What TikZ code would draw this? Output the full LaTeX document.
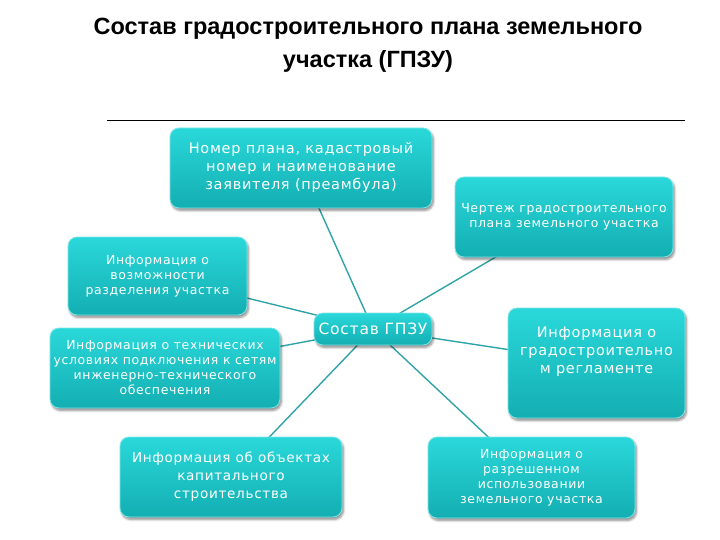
\documentclass[tikz,border=0pt]{standalone}
\usepackage{fontspec}
\setmainfont{DejaVu Sans}
\newfontfamily\boxfont[LetterSpace=5]{DejaVu Sans}
\newfontfamily\titlefont{Liberation Sans}
\usetikzlibrary{shadows.blur}
\pgfdeclarelayer{bg}
\pgfsetlayers{bg,main}
\definecolor{boxtop}{HTML}{2AD8DA}
\definecolor{boxbot}{HTML}{13AEB2}
\definecolor{edgec}{HTML}{7FE6E8}
\definecolor{linec}{HTML}{2FA3A8}
\tikzset{
  gbox/.style={rounded corners=9pt, top color=boxtop, bottom color=boxbot, draw=edgec, line width=0.8pt,
    blur shadow={shadow xshift=1.5pt, shadow yshift=-2.5pt, shadow blur steps=6, shadow opacity=45},
    text=white, align=center, inner sep=2pt},
  bigtxt/.style={font=\boxfont\fontsize{14.5}{18}\selectfont},
  smalltxt/.style={font=\boxfont\fontsize{12.5}{15}\selectfont},
  conn/.style={draw=linec, line width=1.4pt}
}
\begin{document}
\begin{tikzpicture}[x=1pt,y=-1pt]
\useasboundingbox (0,0) rectangle (720,540);
\node[font=\titlefont\bfseries\fontsize{23.5}{33}\selectfont, align=center] (title) at (368,45)
  {Состав градостроительного плана земельного\\участка (ГПЗУ)};
\coordinate (l1) at (107,120);
\coordinate (l2) at (685,120);
\draw[line width=0.8pt] (l1) -- (l2);

\node[gbox, bigtxt, minimum width=262pt, minimum height=80pt] (top) at (301,168)
  {Номер плана, кадастровый\\номер и наименование\\заявителя (преамбула)};
\node[gbox, smalltxt, minimum width=218pt, minimum height=80pt] (cher) at (564,217)
  {Чертеж градостроительного\\плана земельного участка};
\node[gbox, smalltxt, minimum width=179pt, minimum height=78pt] (vozm) at (157.5,276)
  {Информация о\\возможности\\разделения участка};
\node[gbox, smalltxt, minimum width=230pt, minimum height=80pt] (tech) at (165,368)
  {Информация о технических\\условиях подключения к сетям\\инженерно-технического\\обеспечения};
\node[gbox, font=\boxfont\fontsize{15.5}{18}\selectfont, minimum width=118pt, minimum height=32pt] (cen) at (373,329)
  {Состав ГПЗУ};
\node[gbox, bigtxt, minimum width=177pt, minimum height=110pt] (grad) at (596.5,363)
  {Информация о\\градостроительно\\м регламенте\\[8pt]};
\node[gbox, font=\boxfont\fontsize{13.6}{18}\selectfont, minimum width=222pt, minimum height=80pt] (obj) at (231,477)
  {Информация об объектах\\капитального\\строительства};
\node[gbox, smalltxt, minimum width=207pt, minimum height=81pt] (razr) at (531.5,477.5)
  {Информация о\\разрешенном\\использовании\\земельного участка};

\begin{pgfonlayer}{bg}
\foreach \n in {top,cher,vozm,tech,grad,obj,razr}
  \draw[conn] (cen.center) -- (\n.center);
\end{pgfonlayer}
\end{tikzpicture}
\end{document}
